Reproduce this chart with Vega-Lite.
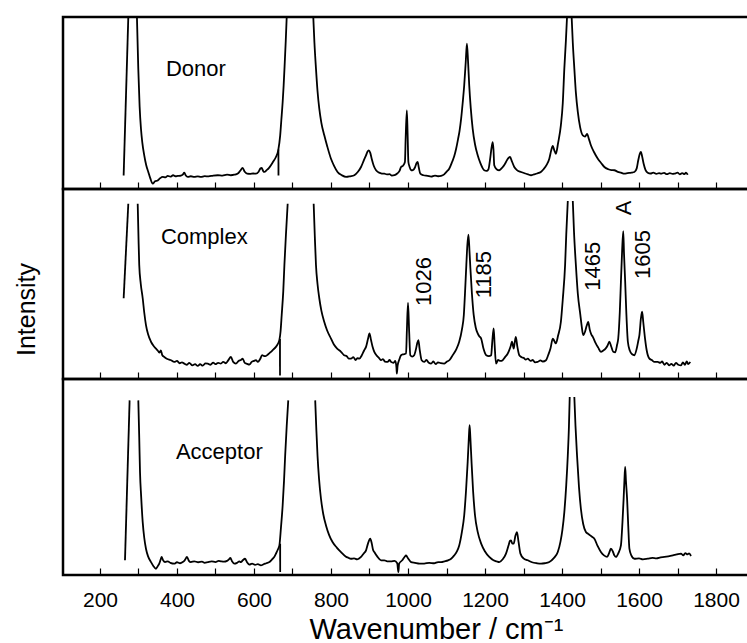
{
  "$schema": "https://vega.github.io/schema/vega-lite/v6.json",
  "padding": {"left": 12, "top": 15, "right": 0, "bottom": 0},
  "spacing": 0,
  "bounds": "flush",
  "config": {
    "view": {"stroke": "black", "strokeWidth": 2.5},
    "font": "Liberation Sans",
    "axis": {"grid": false}
  },
  "datasets": {
    "donor": [
      {"x":261.5,"y":0.079,"seg":"a"},{"x":273.6,"y":1.0,"seg":"a"},
      {"x":296,"y":1.0,"seg":"b"},{"x":299.5,"y":0.70,"seg":"b"},{"x":303,"y":0.48,"seg":"b"},{"x":306.5,"y":0.35,"seg":"b"},{"x":310,"y":0.27,"seg":"b"},{"x":315,"y":0.196,"seg":"b"},{"x":320,"y":0.14,"seg":"b"},{"x":325.5,"y":0.099,"seg":"b"},{"x":331,"y":0.06,"seg":"b"},{"x":337,"y":0.031,"seg":"b"},{"x":343,"y":0.045,"seg":"b"},{"x":350,"y":0.05,"seg":"b"},{"x":356,"y":0.062,"seg":"b"},{"x":363,"y":0.07,"seg":"b"},{"x":370,"y":0.068,"seg":"b"},{"x":376,"y":0.076,"seg":"b"},{"x":383,"y":0.072,"seg":"b"},{"x":390,"y":0.08,"seg":"b"},{"x":396,"y":0.074,"seg":"b"},{"x":402,"y":0.076,"seg":"b"},{"x":410,"y":0.078,"seg":"b"},{"x":415,"y":0.084,"seg":"b"},{"x":419,"y":0.095,"seg":"b"},{"x":423,"y":0.078,"seg":"b"},{"x":428,"y":0.07,"seg":"b"},{"x":436,"y":0.074,"seg":"b"},{"x":445,"y":0.07,"seg":"b"},{"x":454,"y":0.073,"seg":"b"},{"x":462,"y":0.07,"seg":"b"},{"x":472,"y":0.075,"seg":"b"},{"x":482,"y":0.073,"seg":"b"},{"x":494,"y":0.078,"seg":"b"},{"x":506,"y":0.08,"seg":"b"},{"x":518,"y":0.078,"seg":"b"},{"x":530,"y":0.083,"seg":"b"},{"x":540,"y":0.08,"seg":"b"},{"x":549,"y":0.083,"seg":"b"},{"x":558,"y":0.09,"seg":"b"},{"x":564,"y":0.105,"seg":"b"},{"x":570.6,"y":0.122,"seg":"b"},{"x":576,"y":0.1,"seg":"b"},{"x":582,"y":0.089,"seg":"b"},{"x":590,"y":0.088,"seg":"b"},{"x":598,"y":0.09,"seg":"b"},{"x":605,"y":0.089,"seg":"b"},{"x":612,"y":0.1,"seg":"b"},{"x":617,"y":0.12,"seg":"b"},{"x":620,"y":0.122,"seg":"b"},{"x":624,"y":0.104,"seg":"b"},{"x":627,"y":0.099,"seg":"b"},{"x":633,"y":0.11,"seg":"b"},{"x":638,"y":0.12,"seg":"b"},{"x":644,"y":0.138,"seg":"b"},{"x":650,"y":0.16,"seg":"b"},{"x":657,"y":0.186,"seg":"b"},{"x":663,"y":0.225,"seg":"b"},{"x":668,"y":0.31,"seg":"b"},{"x":671,"y":0.4,"seg":"b"},{"x":674.5,"y":0.506,"seg":"b"},{"x":677,"y":0.6,"seg":"b"},{"x":680,"y":0.738,"seg":"b"},{"x":682.5,"y":0.86,"seg":"b"},{"x":685,"y":1.0,"seg":"b"},
      {"x":663.5,"y":0.23,"seg":"v"},{"x":663.6,"y":0.079,"seg":"v"},
      {"x":754,"y":1.0,"seg":"c"},{"x":757,"y":0.85,"seg":"c"},{"x":761,"y":0.70,"seg":"c"},{"x":765,"y":0.57,"seg":"c"},{"x":769.6,"y":0.467,"seg":"c"},{"x":775,"y":0.385,"seg":"c"},{"x":782.6,"y":0.312,"seg":"c"},{"x":790,"y":0.25,"seg":"c"},{"x":800,"y":0.176,"seg":"c"},{"x":808,"y":0.135,"seg":"c"},{"x":817,"y":0.099,"seg":"c"},{"x":828,"y":0.08,"seg":"c"},{"x":839,"y":0.07,"seg":"c"},{"x":850,"y":0.074,"seg":"c"},{"x":860.5,"y":0.08,"seg":"c"},{"x":870,"y":0.1,"seg":"c"},{"x":878,"y":0.128,"seg":"c"},{"x":885,"y":0.165,"seg":"c"},{"x":891,"y":0.196,"seg":"c"},{"x":895,"y":0.218,"seg":"c"},{"x":898,"y":0.225,"seg":"c"},{"x":902,"y":0.21,"seg":"c"},{"x":905.7,"y":0.176,"seg":"c"},{"x":911,"y":0.135,"seg":"c"},{"x":917,"y":0.109,"seg":"c"},{"x":925,"y":0.095,"seg":"c"},{"x":932,"y":0.09,"seg":"c"},{"x":938.5,"y":0.089,"seg":"c"},{"x":945,"y":0.085,"seg":"c"},{"x":952,"y":0.086,"seg":"c"},{"x":958,"y":0.078,"seg":"c"},{"x":965,"y":0.08,"seg":"c"},{"x":972,"y":0.09,"seg":"c"},{"x":978,"y":0.105,"seg":"c"},{"x":982,"y":0.128,"seg":"c"},{"x":987,"y":0.135,"seg":"c"},{"x":992,"y":0.157,"seg":"c"},{"x":994,"y":0.3,"seg":"c"},{"x":997,"y":0.457,"seg":"c"},{"x":999,"y":0.32,"seg":"c"},{"x":1001,"y":0.157,"seg":"c"},{"x":1004,"y":0.13,"seg":"c"},{"x":1008,"y":0.109,"seg":"c"},{"x":1013,"y":0.11,"seg":"c"},{"x":1018,"y":0.125,"seg":"c"},{"x":1022,"y":0.15,"seg":"c"},{"x":1025,"y":0.157,"seg":"c"},{"x":1028,"y":0.125,"seg":"c"},{"x":1032,"y":0.089,"seg":"c"},{"x":1040,"y":0.08,"seg":"c"},{"x":1051,"y":0.076,"seg":"c"},{"x":1060,"y":0.072,"seg":"c"},{"x":1070,"y":0.078,"seg":"c"},{"x":1078,"y":0.074,"seg":"c"},{"x":1086,"y":0.076,"seg":"c"},{"x":1094,"y":0.085,"seg":"c"},{"x":1100,"y":0.1,"seg":"c"},{"x":1107,"y":0.118,"seg":"c"},{"x":1115,"y":0.16,"seg":"c"},{"x":1120,"y":0.19,"seg":"c"},{"x":1125,"y":0.234,"seg":"c"},{"x":1130,"y":0.29,"seg":"c"},{"x":1134,"y":0.34,"seg":"c"},{"x":1138,"y":0.409,"seg":"c"},{"x":1142,"y":0.5,"seg":"c"},{"x":1146,"y":0.603,"seg":"c"},{"x":1150,"y":0.74,"seg":"c"},{"x":1153,"y":0.845,"seg":"c"},{"x":1156,"y":0.74,"seg":"c"},{"x":1159,"y":0.603,"seg":"c"},{"x":1163,"y":0.47,"seg":"c"},{"x":1168,"y":0.35,"seg":"c"},{"x":1174,"y":0.26,"seg":"c"},{"x":1181,"y":0.196,"seg":"c"},{"x":1188,"y":0.15,"seg":"c"},{"x":1193,"y":0.125,"seg":"c"},{"x":1198,"y":0.109,"seg":"c"},{"x":1204,"y":0.105,"seg":"c"},{"x":1209,"y":0.115,"seg":"c"},{"x":1213,"y":0.17,"seg":"c"},{"x":1217,"y":0.24,"seg":"c"},{"x":1220,"y":0.273,"seg":"c"},{"x":1222,"y":0.23,"seg":"c"},{"x":1224,"y":0.138,"seg":"c"},{"x":1230,"y":0.115,"seg":"c"},{"x":1237,"y":0.109,"seg":"c"},{"x":1245,"y":0.125,"seg":"c"},{"x":1250,"y":0.14,"seg":"c"},{"x":1254.5,"y":0.157,"seg":"c"},{"x":1260,"y":0.178,"seg":"c"},{"x":1265,"y":0.186,"seg":"c"},{"x":1270,"y":0.16,"seg":"c"},{"x":1276,"y":0.128,"seg":"c"},{"x":1283,"y":0.11,"seg":"c"},{"x":1293.5,"y":0.099,"seg":"c"},{"x":1305,"y":0.09,"seg":"c"},{"x":1312,"y":0.085,"seg":"c"},{"x":1319.5,"y":0.08,"seg":"c"},{"x":1327,"y":0.085,"seg":"c"},{"x":1335,"y":0.09,"seg":"c"},{"x":1345,"y":0.099,"seg":"c"},{"x":1352,"y":0.115,"seg":"c"},{"x":1360,"y":0.14,"seg":"c"},{"x":1367,"y":0.176,"seg":"c"},{"x":1372,"y":0.225,"seg":"c"},{"x":1376,"y":0.25,"seg":"c"},{"x":1380,"y":0.225,"seg":"c"},{"x":1384,"y":0.205,"seg":"c"},{"x":1390,"y":0.27,"seg":"c"},{"x":1397,"y":0.37,"seg":"c"},{"x":1402,"y":0.5,"seg":"c"},{"x":1406,"y":0.70,"seg":"c"},{"x":1410,"y":0.86,"seg":"c"},{"x":1413,"y":1.0,"seg":"c"},
      {"x":1425,"y":1.0,"seg":"d"},{"x":1428,"y":0.85,"seg":"d"},{"x":1432,"y":0.70,"seg":"d"},{"x":1436,"y":0.56,"seg":"d"},{"x":1441,"y":0.448,"seg":"d"},{"x":1447,"y":0.36,"seg":"d"},{"x":1454,"y":0.312,"seg":"d"},{"x":1460,"y":0.305,"seg":"d"},{"x":1465,"y":0.32,"seg":"d"},{"x":1470,"y":0.29,"seg":"d"},{"x":1475,"y":0.254,"seg":"d"},{"x":1483,"y":0.215,"seg":"d"},{"x":1493,"y":0.176,"seg":"d"},{"x":1502,"y":0.15,"seg":"d"},{"x":1510,"y":0.128,"seg":"d"},{"x":1520,"y":0.115,"seg":"d"},{"x":1528,"y":0.11,"seg":"d"},{"x":1536,"y":0.109,"seg":"d"},{"x":1545,"y":0.1,"seg":"d"},{"x":1553,"y":0.095,"seg":"d"},{"x":1562,"y":0.089,"seg":"d"},{"x":1570,"y":0.092,"seg":"d"},{"x":1580,"y":0.095,"seg":"d"},{"x":1588,"y":0.099,"seg":"d"},{"x":1594,"y":0.12,"seg":"d"},{"x":1598,"y":0.167,"seg":"d"},{"x":1602,"y":0.205,"seg":"d"},{"x":1605,"y":0.215,"seg":"d"},{"x":1608,"y":0.19,"seg":"d"},{"x":1612,"y":0.147,"seg":"d"},{"x":1617,"y":0.11,"seg":"d"},{"x":1622.5,"y":0.095,"seg":"d"},{"x":1630,"y":0.09,"seg":"d"},{"x":1637,"y":0.095,"seg":"d"},{"x":1645,"y":0.088,"seg":"d"},{"x":1652,"y":0.092,"seg":"d"},{"x":1657,"y":0.089,"seg":"d"},{"x":1665,"y":0.094,"seg":"d"},{"x":1672,"y":0.086,"seg":"d"},{"x":1680,"y":0.092,"seg":"d"},{"x":1687,"y":0.088,"seg":"d"},{"x":1692,"y":0.089,"seg":"d"},{"x":1700,"y":0.095,"seg":"d"},{"x":1706,"y":0.085,"seg":"d"},{"x":1712,"y":0.092,"seg":"d"},{"x":1718,"y":0.087,"seg":"d"},{"x":1722,"y":0.095,"seg":"d"},{"x":1726.5,"y":0.083,"seg":"d"}
    ],
    "complex": [
      {"x":261.5,"y":0.425,"seg":"a"},{"x":273.6,"y":0.922,"seg":"a"},
      {"x":298,"y":0.922,"seg":"b"},{"x":300,"y":0.75,"seg":"b"},{"x":302,"y":0.60,"seg":"b"},{"x":306,"y":0.5,"seg":"b"},{"x":311,"y":0.425,"seg":"b"},{"x":315,"y":0.35,"seg":"b"},{"x":319.5,"y":0.284,"seg":"b"},{"x":325,"y":0.235,"seg":"b"},{"x":332.5,"y":0.196,"seg":"b"},{"x":339,"y":0.175,"seg":"b"},{"x":345.5,"y":0.16,"seg":"b"},{"x":350,"y":0.15,"seg":"b"},{"x":354,"y":0.139,"seg":"b"},{"x":358,"y":0.15,"seg":"b"},{"x":362,"y":0.125,"seg":"b"},{"x":367,"y":0.116,"seg":"b"},{"x":375,"y":0.105,"seg":"b"},{"x":383,"y":0.1,"seg":"b"},{"x":393,"y":0.09,"seg":"b"},{"x":400,"y":0.095,"seg":"b"},{"x":407,"y":0.083,"seg":"b"},{"x":413,"y":0.088,"seg":"b"},{"x":419,"y":0.081,"seg":"b"},{"x":426,"y":0.075,"seg":"b"},{"x":432,"y":0.085,"seg":"b"},{"x":440,"y":0.072,"seg":"b"},{"x":447,"y":0.078,"seg":"b"},{"x":454,"y":0.069,"seg":"b"},{"x":460,"y":0.078,"seg":"b"},{"x":467,"y":0.07,"seg":"b"},{"x":474,"y":0.082,"seg":"b"},{"x":480,"y":0.081,"seg":"b"},{"x":487,"y":0.075,"seg":"b"},{"x":494,"y":0.086,"seg":"b"},{"x":500,"y":0.078,"seg":"b"},{"x":507,"y":0.085,"seg":"b"},{"x":514,"y":0.081,"seg":"b"},{"x":520,"y":0.09,"seg":"b"},{"x":527,"y":0.083,"seg":"b"},{"x":533,"y":0.098,"seg":"b"},{"x":540,"y":0.116,"seg":"b"},{"x":546,"y":0.09,"seg":"b"},{"x":553,"y":0.081,"seg":"b"},{"x":560,"y":0.095,"seg":"b"},{"x":566,"y":0.1,"seg":"b"},{"x":570.6,"y":0.107,"seg":"b"},{"x":576,"y":0.085,"seg":"b"},{"x":582,"y":0.08,"seg":"b"},{"x":588,"y":0.076,"seg":"b"},{"x":594,"y":0.09,"seg":"b"},{"x":600,"y":0.095,"seg":"b"},{"x":605,"y":0.099,"seg":"b"},{"x":610,"y":0.09,"seg":"b"},{"x":616,"y":0.105,"seg":"b"},{"x":621,"y":0.125,"seg":"b"},{"x":625,"y":0.122,"seg":"b"},{"x":630,"y":0.12,"seg":"b"},{"x":637,"y":0.13,"seg":"b"},{"x":644,"y":0.143,"seg":"b"},{"x":650,"y":0.155,"seg":"b"},{"x":657,"y":0.169,"seg":"b"},{"x":662,"y":0.185,"seg":"b"},{"x":666,"y":0.205,"seg":"b"},{"x":669,"y":0.25,"seg":"b"},{"x":672,"y":0.337,"seg":"b"},{"x":676,"y":0.46,"seg":"b"},{"x":679,"y":0.60,"seg":"b"},{"x":683,"y":0.76,"seg":"b"},{"x":687.5,"y":0.922,"seg":"b"},
      {"x":667.5,"y":0.21,"seg":"v"},{"x":667.6,"y":0.019,"seg":"v"},
      {"x":755,"y":0.922,"seg":"c"},{"x":758,"y":0.75,"seg":"c"},{"x":761,"y":0.60,"seg":"c"},{"x":765,"y":0.5,"seg":"c"},{"x":769.6,"y":0.425,"seg":"c"},{"x":775,"y":0.36,"seg":"c"},{"x":782.6,"y":0.30,"seg":"c"},{"x":790,"y":0.255,"seg":"c"},{"x":800,"y":0.213,"seg":"c"},{"x":808,"y":0.18,"seg":"c"},{"x":816,"y":0.16,"seg":"c"},{"x":826,"y":0.143,"seg":"c"},{"x":834,"y":0.125,"seg":"c"},{"x":841,"y":0.12,"seg":"c"},{"x":846,"y":0.107,"seg":"c"},{"x":852,"y":0.107,"seg":"c"},{"x":858,"y":0.115,"seg":"c"},{"x":864,"y":0.1,"seg":"c"},{"x":869,"y":0.11,"seg":"c"},{"x":873.5,"y":0.107,"seg":"c"},{"x":880,"y":0.125,"seg":"c"},{"x":886,"y":0.15,"seg":"c"},{"x":891,"y":0.169,"seg":"c"},{"x":896,"y":0.21,"seg":"c"},{"x":900,"y":0.24,"seg":"c"},{"x":904,"y":0.205,"seg":"c"},{"x":908,"y":0.17,"seg":"c"},{"x":912.5,"y":0.143,"seg":"c"},{"x":918,"y":0.125,"seg":"c"},{"x":925,"y":0.11,"seg":"c"},{"x":930,"y":0.099,"seg":"c"},{"x":935,"y":0.105,"seg":"c"},{"x":940,"y":0.092,"seg":"c"},{"x":947,"y":0.09,"seg":"c"},{"x":952,"y":0.1,"seg":"c"},{"x":956,"y":0.09,"seg":"c"},{"x":962,"y":0.085,"seg":"c"},{"x":967,"y":0.095,"seg":"c"},{"x":970,"y":0.06,"seg":"c"},{"x":971,"y":0.028,"seg":"c"},{"x":973,"y":0.07,"seg":"c"},{"x":977,"y":0.1,"seg":"c"},{"x":982,"y":0.125,"seg":"c"},{"x":988,"y":0.13,"seg":"c"},{"x":995,"y":0.134,"seg":"c"},{"x":997,"y":0.25,"seg":"c"},{"x":1000,"y":0.40,"seg":"c"},{"x":1003,"y":0.25,"seg":"c"},{"x":1006,"y":0.125,"seg":"c"},{"x":1011,"y":0.118,"seg":"c"},{"x":1016,"y":0.125,"seg":"c"},{"x":1021,"y":0.16,"seg":"c"},{"x":1024,"y":0.19,"seg":"c"},{"x":1027,"y":0.205,"seg":"c"},{"x":1030,"y":0.16,"seg":"c"},{"x":1035.5,"y":0.099,"seg":"c"},{"x":1042,"y":0.09,"seg":"c"},{"x":1048,"y":0.1,"seg":"c"},{"x":1054,"y":0.085,"seg":"c"},{"x":1060,"y":0.081,"seg":"c"},{"x":1066,"y":0.092,"seg":"c"},{"x":1072,"y":0.078,"seg":"c"},{"x":1078,"y":0.088,"seg":"c"},{"x":1085,"y":0.083,"seg":"c"},{"x":1094,"y":0.081,"seg":"c"},{"x":1100,"y":0.09,"seg":"c"},{"x":1108,"y":0.1,"seg":"c"},{"x":1116,"y":0.125,"seg":"c"},{"x":1125,"y":0.155,"seg":"c"},{"x":1133,"y":0.196,"seg":"c"},{"x":1140,"y":0.26,"seg":"c"},{"x":1145,"y":0.337,"seg":"c"},{"x":1148,"y":0.45,"seg":"c"},{"x":1151.5,"y":0.60,"seg":"c"},{"x":1154,"y":0.7,"seg":"c"},{"x":1157,"y":0.76,"seg":"c"},{"x":1160,"y":0.66,"seg":"c"},{"x":1162,"y":0.584,"seg":"c"},{"x":1166,"y":0.45,"seg":"c"},{"x":1170.6,"y":0.337,"seg":"c"},{"x":1176,"y":0.27,"seg":"c"},{"x":1181,"y":0.24,"seg":"c"},{"x":1185,"y":0.225,"seg":"c"},{"x":1190,"y":0.213,"seg":"c"},{"x":1196,"y":0.16,"seg":"c"},{"x":1203,"y":0.125,"seg":"c"},{"x":1210,"y":0.12,"seg":"c"},{"x":1216,"y":0.125,"seg":"c"},{"x":1219,"y":0.2,"seg":"c"},{"x":1222.5,"y":0.266,"seg":"c"},{"x":1225,"y":0.18,"seg":"c"},{"x":1228.6,"y":0.081,"seg":"c"},{"x":1234,"y":0.1,"seg":"c"},{"x":1240,"y":0.095,"seg":"c"},{"x":1246,"y":0.099,"seg":"c"},{"x":1252,"y":0.115,"seg":"c"},{"x":1258,"y":0.13,"seg":"c"},{"x":1263,"y":0.152,"seg":"c"},{"x":1267,"y":0.175,"seg":"c"},{"x":1270,"y":0.196,"seg":"c"},{"x":1274.5,"y":0.16,"seg":"c"},{"x":1277,"y":0.19,"seg":"c"},{"x":1280,"y":0.222,"seg":"c"},{"x":1284,"y":0.17,"seg":"c"},{"x":1289,"y":0.125,"seg":"c"},{"x":1295,"y":0.115,"seg":"c"},{"x":1301,"y":0.11,"seg":"c"},{"x":1306,"y":0.102,"seg":"c"},{"x":1311,"y":0.107,"seg":"c"},{"x":1318,"y":0.095,"seg":"c"},{"x":1324,"y":0.1,"seg":"c"},{"x":1330,"y":0.088,"seg":"c"},{"x":1337,"y":0.09,"seg":"c"},{"x":1344,"y":0.098,"seg":"c"},{"x":1350,"y":0.092,"seg":"c"},{"x":1358.4,"y":0.099,"seg":"c"},{"x":1364,"y":0.125,"seg":"c"},{"x":1370,"y":0.16,"seg":"c"},{"x":1376,"y":0.213,"seg":"c"},{"x":1380,"y":0.2,"seg":"c"},{"x":1384,"y":0.187,"seg":"c"},{"x":1390,"y":0.23,"seg":"c"},{"x":1397,"y":0.30,"seg":"c"},{"x":1402,"y":0.42,"seg":"c"},{"x":1408,"y":0.60,"seg":"c"},{"x":1411,"y":0.76,"seg":"c"},{"x":1415,"y":0.937,"seg":"c"},
      {"x":1428,"y":0.937,"seg":"d"},{"x":1431,"y":0.78,"seg":"d"},{"x":1436,"y":0.60,"seg":"d"},{"x":1441,"y":0.45,"seg":"d"},{"x":1447.6,"y":0.337,"seg":"d"},{"x":1451,"y":0.28,"seg":"d"},{"x":1455,"y":0.231,"seg":"d"},{"x":1460,"y":0.25,"seg":"d"},{"x":1464,"y":0.28,"seg":"d"},{"x":1468,"y":0.30,"seg":"d"},{"x":1472,"y":0.26,"seg":"d"},{"x":1476,"y":0.235,"seg":"d"},{"x":1480,"y":0.222,"seg":"d"},{"x":1487,"y":0.19,"seg":"d"},{"x":1494,"y":0.165,"seg":"d"},{"x":1501,"y":0.143,"seg":"d"},{"x":1507,"y":0.15,"seg":"d"},{"x":1513,"y":0.16,"seg":"d"},{"x":1518,"y":0.175,"seg":"d"},{"x":1523,"y":0.196,"seg":"d"},{"x":1528,"y":0.17,"seg":"d"},{"x":1533,"y":0.143,"seg":"d"},{"x":1538,"y":0.14,"seg":"d"},{"x":1543,"y":0.18,"seg":"d"},{"x":1546,"y":0.213,"seg":"d"},{"x":1550,"y":0.35,"seg":"d"},{"x":1553,"y":0.513,"seg":"d"},{"x":1556,"y":0.67,"seg":"d"},{"x":1559,"y":0.778,"seg":"d"},{"x":1561,"y":0.66,"seg":"d"},{"x":1564,"y":0.513,"seg":"d"},{"x":1567,"y":0.35,"seg":"d"},{"x":1571,"y":0.196,"seg":"d"},{"x":1576,"y":0.15,"seg":"d"},{"x":1582,"y":0.13,"seg":"d"},{"x":1588,"y":0.125,"seg":"d"},{"x":1594,"y":0.16,"seg":"d"},{"x":1598,"y":0.2,"seg":"d"},{"x":1601,"y":0.231,"seg":"d"},{"x":1605,"y":0.32,"seg":"d"},{"x":1608,"y":0.354,"seg":"d"},{"x":1611,"y":0.3,"seg":"d"},{"x":1615.6,"y":0.213,"seg":"d"},{"x":1620,"y":0.15,"seg":"d"},{"x":1627,"y":0.107,"seg":"d"},{"x":1633,"y":0.1,"seg":"d"},{"x":1640,"y":0.09,"seg":"d"},{"x":1648.5,"y":0.09,"seg":"d"},{"x":1655,"y":0.085,"seg":"d"},{"x":1660,"y":0.092,"seg":"d"},{"x":1666,"y":0.075,"seg":"d"},{"x":1672,"y":0.085,"seg":"d"},{"x":1678,"y":0.072,"seg":"d"},{"x":1684,"y":0.08,"seg":"d"},{"x":1690,"y":0.07,"seg":"d"},{"x":1696,"y":0.085,"seg":"d"},{"x":1702,"y":0.075,"seg":"d"},{"x":1709,"y":0.072,"seg":"d"},{"x":1714,"y":0.088,"seg":"d"},{"x":1719,"y":0.075,"seg":"d"},{"x":1724,"y":0.092,"seg":"d"},{"x":1728,"y":0.078,"seg":"d"},{"x":1733,"y":0.09,"seg":"d"}
    ],
    "acceptor": [
      {"x":265,"y":0.075,"seg":"a"},{"x":277,"y":0.891,"seg":"a"},
      {"x":299.6,"y":0.891,"seg":"b"},{"x":302,"y":0.7,"seg":"b"},{"x":304,"y":0.526,"seg":"b"},{"x":307,"y":0.4,"seg":"b"},{"x":311,"y":0.27,"seg":"b"},{"x":315,"y":0.19,"seg":"b"},{"x":319.5,"y":0.134,"seg":"b"},{"x":325,"y":0.095,"seg":"b"},{"x":332.5,"y":0.066,"seg":"b"},{"x":339,"y":0.045,"seg":"b"},{"x":345.5,"y":0.032,"seg":"b"},{"x":350,"y":0.045,"seg":"b"},{"x":354,"y":0.058,"seg":"b"},{"x":357,"y":0.075,"seg":"b"},{"x":360,"y":0.092,"seg":"b"},{"x":364,"y":0.075,"seg":"b"},{"x":369,"y":0.066,"seg":"b"},{"x":376,"y":0.07,"seg":"b"},{"x":383,"y":0.062,"seg":"b"},{"x":393,"y":0.058,"seg":"b"},{"x":400,"y":0.065,"seg":"b"},{"x":408,"y":0.06,"seg":"b"},{"x":415,"y":0.066,"seg":"b"},{"x":420,"y":0.075,"seg":"b"},{"x":426,"y":0.092,"seg":"b"},{"x":431,"y":0.072,"seg":"b"},{"x":436,"y":0.066,"seg":"b"},{"x":445,"y":0.07,"seg":"b"},{"x":455,"y":0.065,"seg":"b"},{"x":465,"y":0.068,"seg":"b"},{"x":472,"y":0.062,"seg":"b"},{"x":480,"y":0.066,"seg":"b"},{"x":490,"y":0.07,"seg":"b"},{"x":500,"y":0.066,"seg":"b"},{"x":508,"y":0.072,"seg":"b"},{"x":514,"y":0.07,"seg":"b"},{"x":522,"y":0.068,"seg":"b"},{"x":530,"y":0.072,"seg":"b"},{"x":535,"y":0.08,"seg":"b"},{"x":538.6,"y":0.087,"seg":"b"},{"x":543,"y":0.07,"seg":"b"},{"x":549,"y":0.058,"seg":"b"},{"x":556,"y":0.062,"seg":"b"},{"x":562,"y":0.07,"seg":"b"},{"x":566,"y":0.066,"seg":"b"},{"x":571,"y":0.075,"seg":"b"},{"x":576.6,"y":0.083,"seg":"b"},{"x":582,"y":0.065,"seg":"b"},{"x":588,"y":0.053,"seg":"b"},{"x":595,"y":0.058,"seg":"b"},{"x":603,"y":0.052,"seg":"b"},{"x":610,"y":0.055,"seg":"b"},{"x":618,"y":0.049,"seg":"b"},{"x":625,"y":0.055,"seg":"b"},{"x":632,"y":0.06,"seg":"b"},{"x":640,"y":0.066,"seg":"b"},{"x":647,"y":0.08,"seg":"b"},{"x":652,"y":0.09,"seg":"b"},{"x":657,"y":0.109,"seg":"b"},{"x":662,"y":0.13,"seg":"b"},{"x":666,"y":0.151,"seg":"b"},{"x":670,"y":0.24,"seg":"b"},{"x":674.5,"y":0.356,"seg":"b"},{"x":678,"y":0.48,"seg":"b"},{"x":681,"y":0.61,"seg":"b"},{"x":685,"y":0.76,"seg":"b"},{"x":689,"y":0.891,"seg":"b"},
      {"x":668,"y":0.16,"seg":"v"},{"x":668.1,"y":0.015,"seg":"v"},
      {"x":759,"y":0.891,"seg":"c"},{"x":762,"y":0.74,"seg":"c"},{"x":765,"y":0.61,"seg":"c"},{"x":769,"y":0.49,"seg":"c"},{"x":774,"y":0.389,"seg":"c"},{"x":780,"y":0.31,"seg":"c"},{"x":787,"y":0.253,"seg":"c"},{"x":795,"y":0.205,"seg":"c"},{"x":804,"y":0.168,"seg":"c"},{"x":815,"y":0.14,"seg":"c"},{"x":826,"y":0.117,"seg":"c"},{"x":838,"y":0.095,"seg":"c"},{"x":845,"y":0.088,"seg":"c"},{"x":852,"y":0.083,"seg":"c"},{"x":860,"y":0.085,"seg":"c"},{"x":868,"y":0.08,"seg":"c"},{"x":878,"y":0.092,"seg":"c"},{"x":885,"y":0.11,"seg":"c"},{"x":891,"y":0.126,"seg":"c"},{"x":896,"y":0.16,"seg":"c"},{"x":902,"y":0.185,"seg":"c"},{"x":906,"y":0.16,"seg":"c"},{"x":909,"y":0.13,"seg":"c"},{"x":912.5,"y":0.117,"seg":"c"},{"x":920,"y":0.095,"seg":"c"},{"x":930,"y":0.075,"seg":"c"},{"x":938.5,"y":0.075,"seg":"c"},{"x":946,"y":0.07,"seg":"c"},{"x":956,"y":0.07,"seg":"c"},{"x":965,"y":0.072,"seg":"c"},{"x":972,"y":0.06,"seg":"c"},{"x":975,"y":0.015,"seg":"c"},{"x":977,"y":0.058,"seg":"c"},{"x":985,"y":0.075,"seg":"c"},{"x":991,"y":0.092,"seg":"c"},{"x":995,"y":0.1,"seg":"c"},{"x":1000,"y":0.085,"seg":"c"},{"x":1008,"y":0.066,"seg":"c"},{"x":1018,"y":0.062,"seg":"c"},{"x":1030,"y":0.058,"seg":"c"},{"x":1042,"y":0.058,"seg":"c"},{"x":1055,"y":0.062,"seg":"c"},{"x":1068,"y":0.06,"seg":"c"},{"x":1078,"y":0.066,"seg":"c"},{"x":1086,"y":0.066,"seg":"c"},{"x":1095,"y":0.07,"seg":"c"},{"x":1104,"y":0.075,"seg":"c"},{"x":1112,"y":0.083,"seg":"c"},{"x":1120,"y":0.1,"seg":"c"},{"x":1127,"y":0.12,"seg":"c"},{"x":1133,"y":0.151,"seg":"c"},{"x":1140,"y":0.22,"seg":"c"},{"x":1146,"y":0.305,"seg":"c"},{"x":1151,"y":0.44,"seg":"c"},{"x":1155,"y":0.577,"seg":"c"},{"x":1158,"y":0.7,"seg":"c"},{"x":1160,"y":0.764,"seg":"c"},{"x":1162,"y":0.7,"seg":"c"},{"x":1165,"y":0.577,"seg":"c"},{"x":1169,"y":0.43,"seg":"c"},{"x":1174,"y":0.305,"seg":"c"},{"x":1181,"y":0.22,"seg":"c"},{"x":1190,"y":0.16,"seg":"c"},{"x":1200,"y":0.12,"seg":"c"},{"x":1211,"y":0.092,"seg":"c"},{"x":1222,"y":0.075,"seg":"c"},{"x":1230,"y":0.07,"seg":"c"},{"x":1237,"y":0.066,"seg":"c"},{"x":1246,"y":0.08,"seg":"c"},{"x":1254.5,"y":0.109,"seg":"c"},{"x":1261,"y":0.15,"seg":"c"},{"x":1265,"y":0.175,"seg":"c"},{"x":1267.5,"y":0.177,"seg":"c"},{"x":1271,"y":0.16,"seg":"c"},{"x":1274.5,"y":0.16,"seg":"c"},{"x":1279,"y":0.2,"seg":"c"},{"x":1283,"y":0.219,"seg":"c"},{"x":1287,"y":0.17,"seg":"c"},{"x":1292,"y":0.109,"seg":"c"},{"x":1300,"y":0.085,"seg":"c"},{"x":1311,"y":0.075,"seg":"c"},{"x":1322,"y":0.065,"seg":"c"},{"x":1335,"y":0.06,"seg":"c"},{"x":1345.5,"y":0.058,"seg":"c"},{"x":1355,"y":0.06,"seg":"c"},{"x":1367,"y":0.066,"seg":"c"},{"x":1378,"y":0.085,"seg":"c"},{"x":1389,"y":0.117,"seg":"c"},{"x":1396,"y":0.17,"seg":"c"},{"x":1401,"y":0.23,"seg":"c"},{"x":1406,"y":0.321,"seg":"c"},{"x":1411,"y":0.46,"seg":"c"},{"x":1415,"y":0.61,"seg":"c"},{"x":1418,"y":0.76,"seg":"c"},{"x":1420,"y":0.908,"seg":"c"},
      {"x":1432,"y":0.908,"seg":"d"},{"x":1435,"y":0.76,"seg":"d"},{"x":1439,"y":0.61,"seg":"d"},{"x":1444,"y":0.45,"seg":"d"},{"x":1449,"y":0.338,"seg":"d"},{"x":1455,"y":0.26,"seg":"d"},{"x":1462,"y":0.219,"seg":"d"},{"x":1468,"y":0.21,"seg":"d"},{"x":1473,"y":0.202,"seg":"d"},{"x":1478,"y":0.195,"seg":"d"},{"x":1484,"y":0.185,"seg":"d"},{"x":1492,"y":0.15,"seg":"d"},{"x":1501,"y":0.117,"seg":"d"},{"x":1509,"y":0.1,"seg":"d"},{"x":1517,"y":0.092,"seg":"d"},{"x":1522,"y":0.11,"seg":"d"},{"x":1527,"y":0.134,"seg":"d"},{"x":1532,"y":0.12,"seg":"d"},{"x":1536,"y":0.1,"seg":"d"},{"x":1540,"y":0.092,"seg":"d"},{"x":1546,"y":0.11,"seg":"d"},{"x":1553,"y":0.151,"seg":"d"},{"x":1557,"y":0.27,"seg":"d"},{"x":1560,"y":0.389,"seg":"d"},{"x":1562,"y":0.48,"seg":"d"},{"x":1564,"y":0.551,"seg":"d"},{"x":1566,"y":0.48,"seg":"d"},{"x":1569,"y":0.389,"seg":"d"},{"x":1572,"y":0.25,"seg":"d"},{"x":1575,"y":0.134,"seg":"d"},{"x":1580,"y":0.1,"seg":"d"},{"x":1588,"y":0.083,"seg":"d"},{"x":1600,"y":0.085,"seg":"d"},{"x":1610,"y":0.08,"seg":"d"},{"x":1622.5,"y":0.083,"seg":"d"},{"x":1635,"y":0.087,"seg":"d"},{"x":1645,"y":0.085,"seg":"d"},{"x":1656,"y":0.09,"seg":"d"},{"x":1666,"y":0.092,"seg":"d"},{"x":1676,"y":0.095,"seg":"d"},{"x":1688,"y":0.1,"seg":"d"},{"x":1698,"y":0.105,"seg":"d"},{"x":1709,"y":0.109,"seg":"d"},{"x":1715,"y":0.1,"seg":"d"},{"x":1720,"y":0.112,"seg":"d"},{"x":1726,"y":0.105,"seg":"d"},{"x":1730,"y":0.11,"seg":"d"},{"x":1735,"y":0.097,"seg":"d"}
    ]
  },
  "vconcat": [
    {
      "width": 690, "height": 172,
      "encoding": {
        "x": {"field": "x", "type": "quantitative", "scale": {"domain": [104, 1896], "nice": false, "zero": false},
              "axis": {"values": [200,300,400,500,600,700,800,900,1000,1100,1200,1300,1400,1500,1600,1700,1800], "labels": false, "ticks": true, "tickSize": -7, "tickColor": "black", "tickWidth": 1.2, "domain": false, "title": null, "grid": false}},
        "y": {"field": "y", "type": "quantitative", "scale": {"domain": [0, 1], "nice": false}, "axis": null}
      },
      "layer": [
        {"data": {"name": "donor"}, "mark": {"type": "line", "color": "black", "strokeWidth": 1.8, "clip": true, "interpolate": "monotone"}, "encoding": {"detail": {"field": "seg"}}},
        {"data": {"values": [{"x": 449, "y": 0.70, "t": "Donor"}]}, "mark": {"type": "text", "fontSize": 22, "font": "Liberation Sans", "color": "black", "align": "center", "baseline": "middle"}, "encoding": {"text": {"field": "t"}}}
      ]
    },
    {
      "width": 690, "height": 190,
      "encoding": {
        "x": {"field": "x", "type": "quantitative", "scale": {"domain": [104, 1896], "nice": false, "zero": false},
              "axis": {"values": [200,300,400,500,600,700,800,900,1000,1100,1200,1300,1400,1500,1600,1700,1800], "labels": false, "ticks": true, "tickSize": -7, "tickColor": "black", "tickWidth": 1.2, "domain": false, "title": null, "grid": false}},
        "y": {"field": "y", "type": "quantitative", "scale": {"domain": [0, 1], "nice": false},
              "axis": {"title": "Intensity", "labels": false, "ticks": false, "domain": false, "grid": false, "titleFontSize": 25, "titleFontWeight": "normal", "titleColor": "black", "titleFont": "Liberation Sans", "titleAngle": 270, "titleAlign": "center", "titleBaseline": "middle", "titleX": -37, "titleY": 120}}
      },
      "layer": [
        {"data": {"name": "complex"}, "mark": {"type": "line", "color": "black", "strokeWidth": 1.8, "clip": true, "interpolate": "monotone"}, "encoding": {"detail": {"field": "seg"}}},
        {"data": {"values": [{"x": 471, "y": 0.75, "t": "Complex"}]}, "mark": {"type": "text", "fontSize": 22, "font": "Liberation Sans", "color": "black", "align": "center", "baseline": "middle"}, "encoding": {"text": {"field": "t"}}},
        {"data": {"values": [{"x": 1042, "y": 0.513, "t": "1026"}, {"x": 1198, "y": 0.549, "t": "1185"}, {"x": 1480, "y": 0.593, "t": "1465"}, {"x": 1560, "y": 0.90, "t": "A"}, {"x": 1610, "y": 0.655, "t": "1605"}]}, "mark": {"type": "text", "fontSize": 22, "font": "Liberation Sans", "color": "black", "align": "center", "baseline": "middle", "angle": 270}, "encoding": {"text": {"field": "t"}}}
      ]
    },
    {
      "width": 690, "height": 196,
      "encoding": {
        "x": {"field": "x", "type": "quantitative", "scale": {"domain": [104, 1896], "nice": false, "zero": false},
              "axis": {"values": [200,300,400,500,600,700,800,900,1000,1100,1200,1300,1400,1500,1600,1700,1800], "labelExpr": "datum.value % 200 === 0 ? '' + datum.value : ''", "labels": true, "labelFontSize": 21, "labelFont": "Liberation Sans", "labelColor": "black", "labelPadding": 21, "labelOverlap": false, "labelFlush": false, "ticks": true, "tickSize": -7, "tickColor": "black", "tickWidth": 1.2, "domain": false, "grid": false,
                       "title": "Wavenumber / cm⁻¹", "titleFontSize": 29, "titleFontWeight": "normal", "titleColor": "black", "titleFont": "Liberation Sans", "titleAlign": "left", "titleBaseline": "alphabetic", "titleX": 246, "titleY": 63}},
        "y": {"field": "y", "type": "quantitative", "scale": {"domain": [0, 1], "nice": false}, "axis": null}
      },
      "layer": [
        {"data": {"name": "acceptor"}, "mark": {"type": "line", "color": "black", "strokeWidth": 1.8, "clip": true, "interpolate": "monotone"}, "encoding": {"detail": {"field": "seg"}}},
        {"data": {"values": [{"x": 510, "y": 0.628, "t": "Acceptor"}]}, "mark": {"type": "text", "fontSize": 22, "font": "Liberation Sans", "color": "black", "align": "center", "baseline": "middle"}, "encoding": {"text": {"field": "t"}}}
      ]
    }
  ]
}
